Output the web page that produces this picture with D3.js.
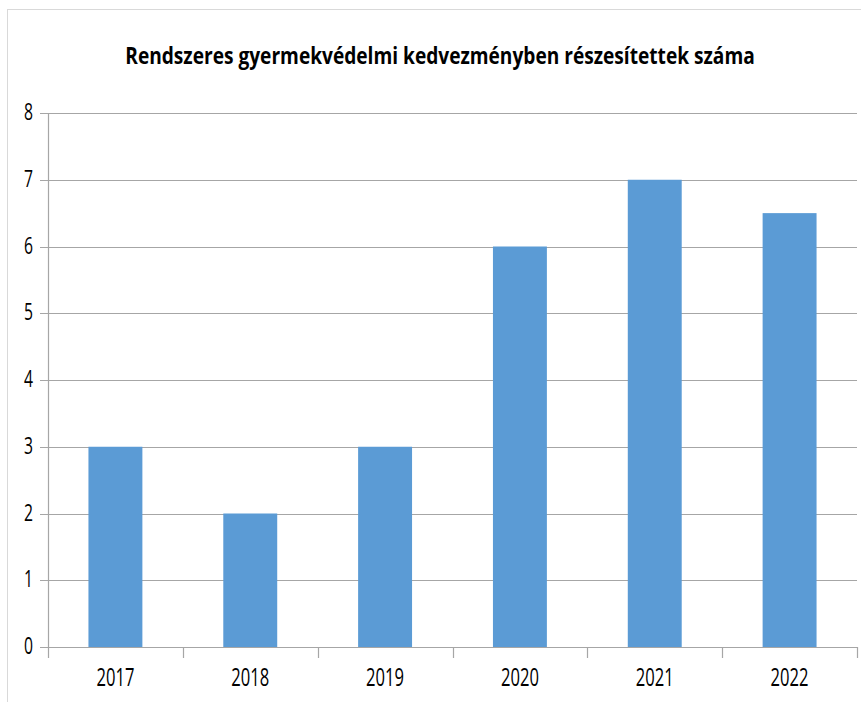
<!DOCTYPE html>
<html>
<head>
<meta charset="utf-8">
<script src="https://cdn.jsdelivr.net/npm/d3@7"></script>
<style>
  body { margin: 0; background: #fff; }
  svg { display: block; }
</style>
</head>
<body>
<div class="chart"></div>
<script>
// data
var years = ['2017', '2018', '2019', '2020', '2021', '2022'];
var values = [3, 2, 3, 6, 7, 6.5];
var yTicks = [0, 1, 2, 3, 4, 5, 6, 7, 8];
var title = 'Rendszeres gyermekvédelmi kedvezményben részesítettek száma';

var settings = {
  w: 861,
  h: 702,
  left: 48,
  right: 857,
  top: 113,
  bottom: 647,
  font: '"Open Sans", "Liberation Sans", sans-serif'
};

var svg = d3.select('.chart')
  .append('svg')
  .attr('width', settings.w)
  .attr('height', settings.h);

// light frame round the chart
svg.append('rect')
  .attr('x', 7.5)
  .attr('y', 9.5)
  .attr('width', 870)
  .attr('height', 720)
  .attr('fill', 'none')
  .attr('stroke', '#d9d9d9');

var x = d3.scaleBand()
  .domain(years)
  .range([settings.left, settings.right])
  .paddingInner(0.6)
  .paddingOuter(0.3);

var xOuter = d3.scaleBand()
  .domain(years)
  .range([settings.left, settings.right]);

var y = d3.scaleLinear()
  .domain([0, 8])
  .range([settings.bottom, settings.top]);

// gridlines
svg.append('g')
  .selectAll('line')
  .data(yTicks)
  .enter()
  .append('line')
  .attr('x1', settings.left - 8)
  .attr('x2', settings.right)
  .attr('y1', function(d) { return Math.round(y(d)) + 0.5; })
  .attr('y2', function(d) { return Math.round(y(d)) + 0.5; })
  .attr('stroke', '#a6a6a6')
  .attr('stroke-width', 1.2);

// bars
svg.append('g')
  .selectAll('rect')
  .data(values)
  .enter()
  .append('rect')
  .attr('x', function(d, i) { return x(years[i]); })
  .attr('y', function(d) { return y(d); })
  .attr('width', x.bandwidth())
  .attr('height', function(d) { return y(0) - y(d); })
  .attr('fill', '#5b9bd5');

// y axis line
svg.append('line')
  .attr('x1', settings.left + 0.5)
  .attr('x2', settings.left + 0.5)
  .attr('y1', settings.top)
  .attr('y2', settings.bottom)
  .attr('stroke', '#a6a6a6')
  .attr('stroke-width', 1.2);

// x axis ticks at category edges
var edges = years.map(function(d) { return xOuter(d); }).concat([settings.right]);
svg.append('g')
  .selectAll('line')
  .data(edges)
  .enter()
  .append('line')
  .attr('x1', function(d) { return Math.round(d) + 0.5; })
  .attr('x2', function(d) { return Math.round(d) + 0.5; })
  .attr('y1', settings.bottom)
  .attr('y2', settings.bottom + 11)
  .attr('stroke', '#a6a6a6')
  .attr('stroke-width', 1.2);

// y labels (narrow, tall digits like the original)
svg.append('g')
  .selectAll('text')
  .data(yTicks)
  .enter()
  .append('text')
  .attr('x', 33)
  .attr('y', function(d) { return y(d) + 7; })
  .attr('text-anchor', 'end')
  .attr('textLength', 9)
  .attr('lengthAdjust', 'spacingAndGlyphs')
  .style('font-family', settings.font)
  .style('font-size', '24px')
  .attr('fill', '#000')
  .text(function(d) { return d; });

// x labels
svg.append('g')
  .selectAll('text')
  .data(years)
  .enter()
  .append('text')
  .attr('x', function(d) { return xOuter(d) + xOuter.bandwidth() / 2; })
  .attr('y', 686)
  .attr('text-anchor', 'middle')
  .attr('textLength', 38)
  .attr('lengthAdjust', 'spacingAndGlyphs')
  .style('font-family', settings.font)
  .style('font-size', '25px')
  .attr('fill', '#000')
  .text(function(d) { return d; });

// title, squeezed sideways with a transform so it stays condensed like the original
var titleG = svg.append('g');
var titleText = titleG.append('text')
  .attr('x', 0)
  .attr('y', 0)
  .attr('text-anchor', 'middle')
  .style('font-family', settings.font)
  .style('font-size', '24px')
  .style('font-weight', 'bold')
  .attr('fill', '#000')
  .text(title);
var sx = 630 / titleText.node().getComputedTextLength();
titleG.attr('transform', 'translate(440,64) scale(' + sx + ',1)');
</script>
</body>
</html>
